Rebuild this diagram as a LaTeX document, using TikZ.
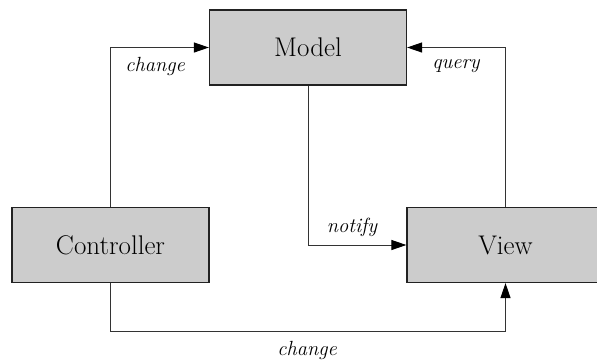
\documentclass[tikz,border=0pt]{standalone}
\usetikzlibrary{arrows.meta}
\definecolor{boxfill}{HTML}{CCCCCC}
\definecolor{boxline}{HTML}{222222}
\definecolor{wire}{HTML}{333333}
\tikzset{
  block/.style={draw=boxline, line width=1.2pt, fill=boxfill, minimum width=197pt,
    minimum height=75pt, inner sep=0pt, font=\fontsize{27}{32}\selectfont},
  link/.style={draw=wire, line width=1pt, -{Triangle[length=15pt,width=10pt,color=black]}},
  tag/.style={font=\itshape\fontsize{20.5}{25}\selectfont, inner sep=0pt}
}
\begin{document}
\begin{tikzpicture}[x=1pt,y=-1pt]
  \useasboundingbox (0,0) rectangle (597,360);
  \clip (0,0) rectangle (597,360);
  % boxes
  \node[block] (model) at (308,47.5) {Model};
  \node[block] (ctrl) at (110.5,245) {Controller};
  \node[block] (view) at (505.5,245) {View};
  % corner points of the wires
  \coordinate (c1) at (110.5,47.5);
  \coordinate (c2) at (505.5,47.5);
  \coordinate (c3) at (308,245);
  \coordinate (c4) at (110.5,331.5);
  \coordinate (c5) at (505.5,331.5);
  % wires
  \draw[link] (ctrl.north) -- (c1) -- (model.west);
  \draw[link] (view.north) -- (c2) -- (model.east);
  \draw[link] (model.south) -- (c3) -- (view.west);
  \draw[link] (ctrl.south) -- (c4) -- (c5) -- (view.south);
  % labels
  \node[tag] (l1) at (155,66) {change};
  \node[tag] (l2) at (456,66) {query};
  \node[tag] (l3) at (352,227) {notify};
  \node[tag] (l4) at (307,350) {change};
\end{tikzpicture}
\end{document}
